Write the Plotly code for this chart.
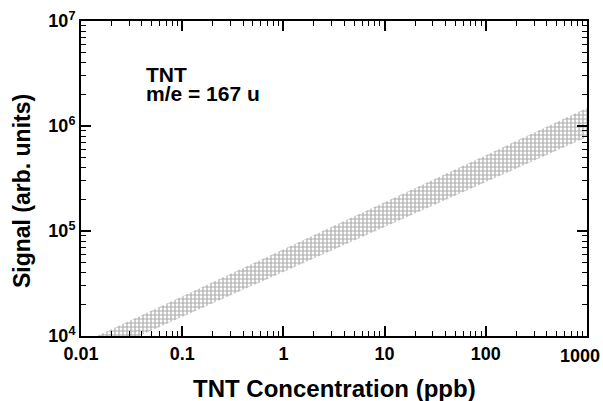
import plotly.graph_objects as go

# Band boundary vertices (concentration in ppb, signal in arb. units)
band_conc = [0.0144, 1000, 1000, 0.0376]
band_signal = [1e4, 1.48e6, 7.85e5, 1e4]

x_tickvals = [0.01, 0.1, 1, 10, 100, 1000]
x_ticktext = ["0.01", "0.1", "1", "10", "100", "1000"]
y_tickvals = [1e4, 1e5, 1e6, 1e7]
y_ticktext = ["10<sup>4</sup>", "10<sup>5</sup>", "10<sup>6</sup>", "10<sup>7</sup>"]

x_minor = [k * 10 ** d for d in range(-2, 3) for k in range(2, 10)]
y_minor = [k * 10 ** d for d in range(4, 7) for k in range(2, 10)]

FONT = "Liberation Sans, Arial, Helvetica, sans-serif"

fig = go.Figure()
fig.add_trace(go.Scatter(
    x=band_conc, y=band_signal, mode="lines", fill="toself",
    line=dict(width=0, color="rgba(0,0,0,0)"),
    fillcolor="rgba(255,255,255,0)",
    fillpattern=dict(shape="+", size=4, solidity=0.5, fgcolor="#555555", bgcolor="rgba(255,255,255,0)"),
    hoverinfo="skip", showlegend=False,
))

tickfont = dict(family=FONT, size=18, color="black", weight="bold")
axis_common = dict(
    type="log", showline=True, linecolor="black", linewidth=2, mirror="ticks",
    ticks="inside", ticklen=10, tickwidth=1.5, tickcolor="black",
    showgrid=False, zeroline=False, automargin=False,
    tickfont=tickfont,
)

# last x label ("1000") sits at the right edge of the frame; drawn as a shifted label so it fits
fig.update_xaxes(
    **axis_common, range=[-2, 3], tickvals=x_tickvals,
    ticktext=x_ticktext[:-1] + [""],
    minor=dict(ticks="inside", ticklen=5, tickwidth=1.2, tickcolor="black", tickvals=x_minor, showgrid=False),
)
fig.update_yaxes(
    **axis_common, range=[4, 7], tickvals=y_tickvals, ticktext=y_ticktext,
    minor=dict(ticks="inside", ticklen=5, tickwidth=1.2, tickcolor="black", tickvals=y_minor, showgrid=False),
)

ann_font = dict(family=FONT, color="black", weight="bold")
fig.update_layout(
    width=603, height=401,
    margin=dict(l=81, r=16, t=21, b=65),
    plot_bgcolor="white", paper_bgcolor="white",
    annotations=[
        dict(text=x_ticktext[-1], xref="x", yref="paper", x=3, y=-0.062, xshift=-7,
             xanchor="center", yanchor="middle", showarrow=False, font=tickfont),
        dict(text="TNT Concentration (ppb)", xref="paper", yref="paper", x=0.5, y=-0.166,
             xanchor="center", yanchor="middle", showarrow=False, font=dict(size=24, **ann_font)),
        dict(text="Signal (arb. units)", xref="paper", yref="paper", x=-0.1166, y=0.46,
             xanchor="center", yanchor="middle", textangle=-90, showarrow=False, font=dict(size=23, **ann_font)),
        dict(text="TNT", xref="paper", yref="paper", x=0.124, y=0.829,
             xanchor="left", yanchor="middle", showarrow=False, font=dict(size=21, **ann_font)),
        dict(text="m/e = 167 u", xref="paper", yref="paper", x=0.124, y=0.771,
             xanchor="left", yanchor="middle", showarrow=False, font=dict(size=21, **ann_font)),
    ],
)

fig.write_html(
    "out.html",
    config={"displayModeBar": False},
    post_script="document.body.style.margin='0';document.body.style.overflow='hidden';",
)
